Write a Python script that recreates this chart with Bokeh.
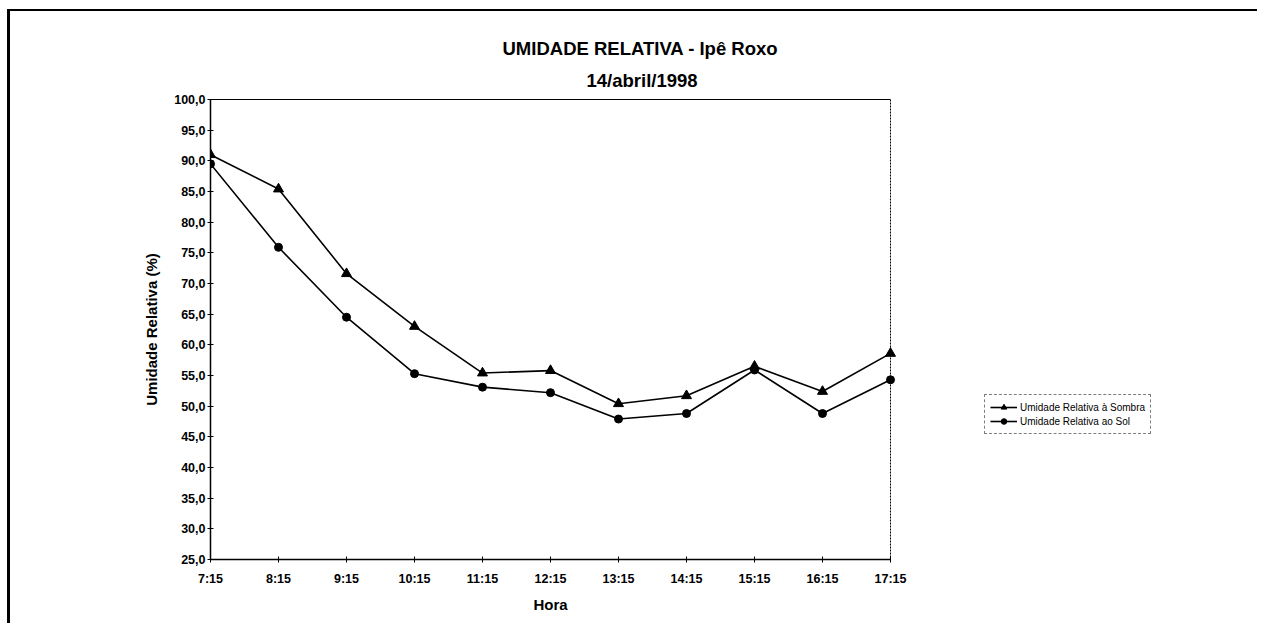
from bokeh.plotting import figure
from bokeh.models import Range1d, FixedTicker, Legend, LegendItem, Title, LinearAxis, Span
from bokeh.embed import file_html
from bokeh.resources import INLINE

# ---- data ----
hours = ["7:15", "8:15", "9:15", "10:15", "11:15", "12:15", "13:15", "14:15", "15:15", "16:15", "17:15"]
ur_sombra = [91.0, 85.4, 71.6, 63.0, 55.4, 55.8, 50.4, 51.7, 56.5, 52.4, 58.6]
ur_sol = [89.5, 75.9, 64.5, 55.3, 53.1, 52.2, 47.9, 48.8, 55.9, 48.8, 54.3]
y_ticks = [25, 30, 35, 40, 45, 50, 55, 60, 65, 70, 75, 80, 85, 90, 95, 100]
y_tick_labels = ["25,0", "30,0", "35,0", "40,0", "45,0", "50,0", "55,0", "60,0", "65,0",
                 "70,0", "75,0", "80,0", "85,0", "90,0", "95,0", "100,0"]
series_names = ["Umidade Relativa à Sombra", "Umidade Relativa ao Sol"]
title_lines = ["UMIDADE RELATIVA - Ipê Roxo", "14/abril/1998"]
x_label = "Hora"
y_label = "Umidade Relativa (%)"

FONT = "Liberation Sans"
xs = list(range(len(hours)))
x_last = len(hours) - 1

# geometry: the frame extends to the right so the legend can sit inside it;
# the plotted area itself is PLOT_W pixels wide.
W, H = 1250, 614
BL, BR, BT, BB = 200, 10, 88, 66
FRAME_W = W - BL - BR
PLOT_W = 680
x_end = x_last * FRAME_W / PLOT_W

p = figure(width=W, height=H, output_backend="svg", toolbar_location=None,
           x_range=Range1d(0, x_end), y_range=Range1d(25, 100),
           min_border_left=BL, min_border_right=BR, min_border_top=BT, min_border_bottom=BB)
p.styles = {"border-left": "3px solid black", "border-top": "2px solid black",
            "margin-left": "7px", "margin-top": "9px"}

p.xgrid.visible = False
p.ygrid.visible = False
p.outline_line_color = None
p.background_fill_color = "white"
p.border_fill_color = "white"

# axes
p.xaxis.ticker = FixedTicker(ticks=xs)
p.xaxis.bounds = (0, x_last)
p.xaxis.major_label_overrides = {i: h for i, h in zip(xs, hours)}
p.yaxis.ticker = FixedTicker(ticks=y_ticks)
p.yaxis.major_label_overrides = {t: l for t, l in zip(y_ticks, y_tick_labels)}
for ax in (p.xaxis[0], p.yaxis[0]):
    ax.axis_line_color = "black"
    ax.axis_line_width = 1.5
    ax.major_tick_line_color = "black"
    ax.major_tick_in = 3
    ax.major_tick_out = 3
    ax.minor_tick_line_color = None
    ax.major_label_text_font = FONT
    ax.major_label_text_font_size = "12.5px"
    ax.major_label_text_font_style = "bold"
    ax.major_label_text_color = "black"
    ax.axis_label_text_font = FONT
    ax.axis_label_text_font_size = "15px"
    ax.axis_label_text_font_style = "bold"
    ax.axis_label_text_color = "black"
p.yaxis.axis_label = y_label
p.xaxis.major_label_standoff = 9
p.yaxis.major_label_standoff = 2
p.yaxis.axis_label_standoff = 11

# x-axis title, centred under the plotted area
p.add_layout(Title(text=x_label, align="left", offset=323, standoff=10,
                   text_font=FONT, text_font_size="15px", text_font_style="bold",
                   text_color="black"), "below")

# plot-area border: top line (bounded axis without ticks) and dotted right edge
top_ax = LinearAxis(bounds=(0, x_last), ticker=FixedTicker(ticks=[]),
                    axis_line_color="black", axis_line_width=1,
                    major_tick_in=0, major_tick_out=0, minor_tick_line_color=None,
                    major_label_standoff=0, major_label_text_font_size="0px")
p.add_layout(top_ax, "above")
p.add_layout(Span(location=x_last, dimension="height", line_color="black",
                  line_width=1, line_dash="2 1"))

# series
l1 = p.line(xs, ur_sombra, line_color="black", line_width=1.6)
m1 = p.scatter(xs, ur_sombra, marker="triangle", size=10, fill_color="black", line_color="black")
l2 = p.line(xs, ur_sol, line_color="black", line_width=1.6)
m2 = p.scatter(xs, ur_sol, marker="circle", size=8, fill_color="black", line_color="black")

legend = Legend(items=[LegendItem(label=series_names[0], renderers=[l1, m1]),
                       LegendItem(label=series_names[1], renderers=[l2, m2])],
                location=(774, 125), orientation="vertical")
legend.label_text_font = FONT
legend.label_text_font_size = "10px"
legend.label_text_color = "black"
legend.label_standoff = 3
legend.glyph_width = 27
legend.glyph_height = 14
legend.label_height = 14
legend.spacing = 0
legend.padding = 5
legend.margin = 0
legend.border_line_color = "black"
legend.border_line_width = 1
legend.border_line_dash = "1 1"
legend.background_fill_color = "white"
p.add_layout(legend, "center")

# title: two lines, second line added first (closest to the plot)
p.add_layout(Title(text=title_lines[1], align="left", offset=376, standoff=18,
                   text_font=FONT, text_font_size="18.5px", text_font_style="bold",
                   text_color="black"), "above")
p.add_layout(Title(text=title_lines[0], align="left", offset=292, standoff=0,
                   text_font=FONT, text_font_size="18.5px", text_font_style="bold",
                   text_color="black"), "above")

open("out.html", "w").write(file_html(p, INLINE))
